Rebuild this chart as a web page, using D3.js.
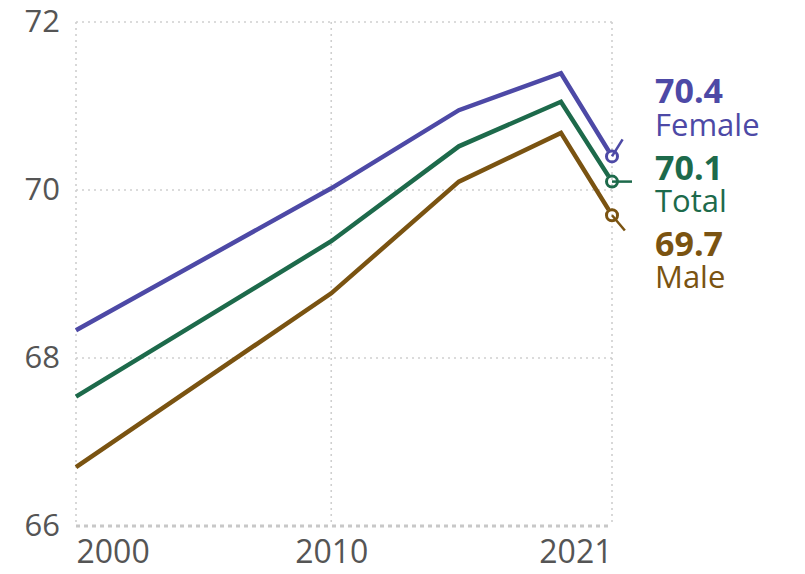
<!DOCTYPE html>
<html>
<head>
<meta charset="utf-8">
<script src="https://cdn.jsdelivr.net/npm/d3@7"></script>
<style>
  body { margin: 0; background: #fff; }
  svg text { font-family: "Open Sans", "Noto Sans", sans-serif; }
</style>
</head>
<body>
<div id="chart"></div>
<script>
const years = [2000, 2010, 2015, 2019, 2021];
const female = [68.33, 70.02, 70.95, 71.39, 70.4];
const total = [67.54, 69.39, 70.52, 71.05, 70.1];
const male = [66.70, 68.77, 70.10, 70.68, 69.7];
const yTicks = [66, 68, 70, 72];
const xTicks = [2000, 2010, 2021];

const largura = 805, altura = 574;
const margem = { top: 22, right: 193, bottom: 48, left: 76 };

const series = [
    { nome: "Female", valores: female, cor: "#4d49a6", angulo: -58 },
    { nome: "Total", valores: total, cor: "#1d6a4b", angulo: 0 },
    { nome: "Male", valores: male, cor: "#7a5311", angulo: 50 }
];

const svg = d3.select("#chart").append("svg")
    .attr("width", largura)
    .attr("height", altura);

const x = d3.scaleLinear()
    .domain([2000, 2021])
    .range([margem.left, largura - margem.right]);

const y = d3.scaleLinear()
    .domain([66, 72])
    .range([altura - margem.bottom, margem.top]);

// grade pontilhada
svg.append("g")
    .selectAll("line")
    .data(yTicks)
    .join("line")
    .attr("x1", x(2000)).attr("x2", x(2021))
    .attr("y1", d => y(d)).attr("y2", d => y(d))
    .attr("stroke", d => d === 66 ? "#c8c8c8" : "#cfcfcf")
    .attr("stroke-width", d => d === 66 ? 3 : 1.6)
    .attr("stroke-dasharray", d => d === 66 ? "4,4" : "2,4");

svg.append("g")
    .selectAll("line")
    .data(xTicks)
    .join("line")
    .attr("x1", d => x(d)).attr("x2", d => x(d))
    .attr("y1", y(72)).attr("y2", y(66))
    .attr("stroke", "#cfcfcf")
    .attr("stroke-width", 1.6)
    .attr("stroke-dasharray", "2,4");

// eixos
const eixoY = svg.append("g")
    .attr("transform", `translate(${margem.left},0)`)
    .call(d3.axisLeft(y).tickValues(yTicks).tickSize(0).tickPadding(16).tickFormat(d3.format("d")));
eixoY.select(".domain").remove();
eixoY.selectAll("text")
    .attr("fill", "#555")
    .style("font-size", "31px")
    .attr("dy", "0.3em");

const eixoX = svg.append("g")
    .attr("transform", `translate(0,${y(66)})`)
    .call(d3.axisBottom(x).tickValues(xTicks).tickSize(0).tickPadding(14).tickFormat(d3.format("d")));
eixoX.select(".domain").remove();
eixoX.selectAll("text")
    .attr("fill", "#555")
    .style("font-size", "32px")
    .attr("text-anchor", d => d === 2000 ? "start" : d === 2021 ? "end" : "middle");

const raio = 5.5;

series.forEach(s => {
    const n = s.valores.length;
    const xf = x(years[n - 1]), yf = y(s.valores[n - 1]);
    const xp = x(years[n - 2]), yp = y(s.valores[n - 2]);
    // encurta o último segmento para terminar no marcador
    const dx = xf - xp, dy = yf - yp, len = Math.hypot(dx, dy);
    const pts = s.valores.map((v, i) => [x(years[i]), y(v)]);
    pts[n - 1] = [xf - dx / len * (raio + 1), yf - dy / len * (raio + 1)];

    svg.append("path")
        .datum(pts)
        .attr("fill", "none")
        .attr("stroke", s.cor)
        .attr("stroke-width", 4.5)
        .attr("d", d3.line());

    // marcador
    const a = s.angulo * Math.PI / 180;
    svg.append("line")
        .attr("x1", xf).attr("y1", yf)
        .attr("x2", xf + Math.cos(a) * 20).attr("y2", yf + Math.sin(a) * 20)
        .attr("stroke", s.cor)
        .attr("stroke-width", 2.5);
    svg.append("circle")
        .attr("cx", xf).attr("cy", yf)
        .attr("r", raio)
        .attr("fill", "none")
        .attr("stroke", s.cor)
        .attr("stroke-width", 3);
});

// rótulos
const rotulos = [
    { s: series[0], yValor: 103, yNome: 136 },
    { s: series[1], yValor: 180, yNome: 212 },
    { s: series[2], yValor: 256, yNome: 288 }
];
const xr = 655;
rotulos.forEach(r => {
    const n = r.s.valores.length;
    svg.append("text")
        .attr("x", xr).attr("y", r.yValor)
        .attr("fill", r.s.cor)
        .style("font-size", "34px")
        .style("font-weight", "bold")
        .text(d3.format(".1f")(r.s.valores[n - 1]));
    svg.append("text")
        .attr("x", xr).attr("y", r.yNome)
        .attr("fill", r.s.cor)
        .style("font-size", "31px")
        .text(r.s.nome);
});
</script>
</body>
</html>
